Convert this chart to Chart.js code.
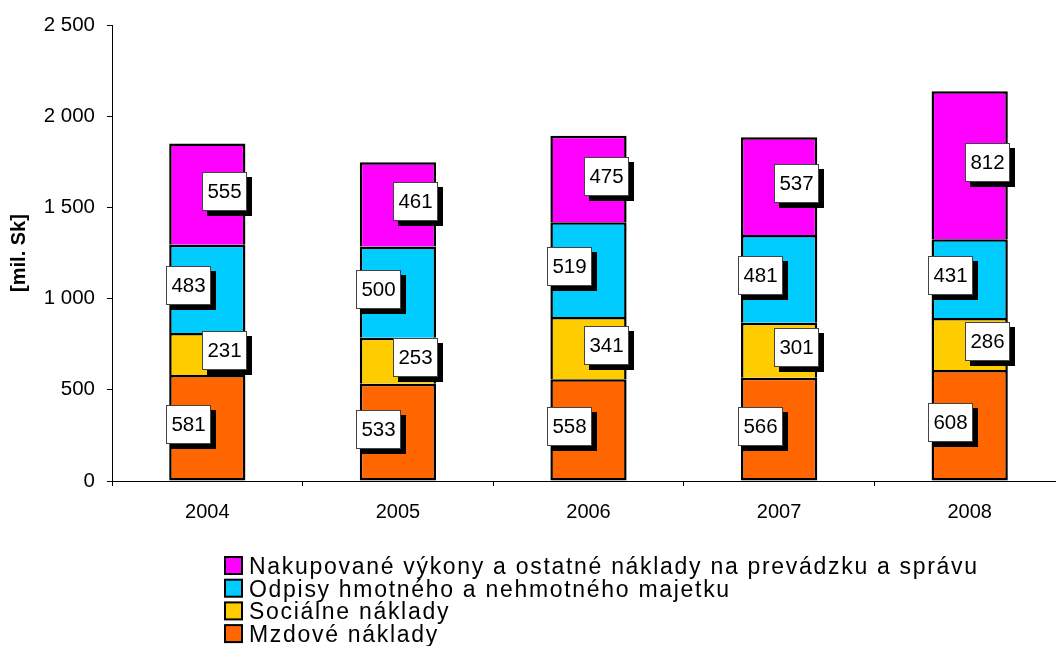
<!DOCTYPE html>
<html>
<head>
<meta charset="utf-8">
<script src="https://cdn.jsdelivr.net/npm/chart.js@4.4.1/dist/chart.umd.min.js"></script>
<style>
html,body{margin:0;padding:0;background:#fff;overflow:hidden;}
#wrap{width:1056px;height:646px;position:relative;overflow:hidden;}
#c{position:absolute;left:0;top:0;}
</style>
</head>
<body>
<div id="wrap"><canvas id="c" width="1065" height="646"></canvas></div>
<script>
const categories = ['2004', '2005', '2006', '2007', '2008'];
const mzdoveNaklady = [581, 533, 558, 566, 608];
const socialneNaklady = [231, 253, 341, 301, 286];
const odpisy = [483, 500, 519, 481, 431];
const nakupovane = [555, 461, 475, 537, 812];
const seriesLabels = [
  'Mzdové náklady',
  'Sociálne náklady',
  'Odpisy hmotného a nehmotného majetku',
  'Nakupované výkony a ostatné náklady na prevádzku a správu'
];
const yTicks = [0, 500, 1000, 1500, 2000, 2500];
const colors = ['#FF6600', '#FFCC00', '#00CCFF', '#FF00FF'];

const FONT = "Arial, 'Liberation Sans', sans-serif";

function fmt(v) {
  return String(v).replace(/\B(?=(\d{3})+(?!\d))/g, ' ');
}

const labelPlugin = {
  id: 'boxLabels',
  afterDatasetsDraw(chart) {
    const ctx = chart.ctx;
    ctx.save();
    ctx.font = '20.5px ' + FONT;
    ctx.textAlign = 'center';
    ctx.textBaseline = 'middle';
    chart.data.datasets.forEach((ds, di) => {
      const meta = chart.getDatasetMeta(di);
      const dx = (di % 2 === 0) ? -19 : 17.5;
      meta.data.forEach((bar, i) => {
        const cx = bar.x + dx;
        const cy = (bar.y + bar.base) / 2 - 3;
        const w = 45, h = 39;
        const x0 = Math.round(cx - w / 2), y0 = Math.round(cy - h / 2);
        ctx.fillStyle = '#000';
        ctx.fillRect(x0 + 5, y0 + 5, w, h);
        ctx.fillStyle = '#fff';
        ctx.fillRect(x0, y0, w, h);
        ctx.strokeStyle = '#444';
        ctx.lineWidth = 1;
        ctx.strokeRect(x0 + 0.5, y0 + 0.5, w - 1, h - 1);
        ctx.fillStyle = '#000';
        ctx.fillText(String(ds.data[i]), x0 + w / 2, y0 + h / 2 + 1);
      });
    });
    ctx.restore();
  }
};

const legendPlugin = {
  id: 'stackLegend',
  afterDraw(chart) {
    const ctx = chart.ctx;
    ctx.save();
    ctx.font = '23px ' + FONT;
    ctx.textAlign = 'left';
    ctx.textBaseline = 'alphabetic';
    try { ctx.letterSpacing = '1.7px'; } catch (e) {}
    const n = chart.data.datasets.length;
    for (let k = 0; k < n; k++) {
      const di = n - 1 - k;
      const ds = chart.data.datasets[di];
      const base = 574 + k * 22.7;
      ctx.fillStyle = ds.backgroundColor;
      ctx.fillRect(225, base - 17, 17, 17);
      ctx.strokeStyle = '#000';
      ctx.lineWidth = 2;
      ctx.strokeRect(225, base - 17, 17, 17);
      ctx.fillStyle = '#000';
      ctx.fillText(ds.label, 249, base);
    }
    ctx.restore();
  }
};

const datasets = [mzdoveNaklady, socialneNaklady, odpisy, nakupovane].map((d, i) => ({
  label: seriesLabels[i],
  data: d,
  backgroundColor: colors[i],
  borderColor: '#000',
  borderWidth: 2.5,
  borderSkipped: i === 0 ? false : 'start',
  barPercentage: 0.4,
  categoryPercentage: 1.0
}));

new Chart(document.getElementById('c'), {
  type: 'bar',
  data: { labels: categories, datasets },
  options: {
    responsive: false,
    animation: false,
    events: [],
    layout: { padding: { top: 25, right: 0, bottom: 125, left: 0 } },
    plugins: { legend: { display: false }, tooltip: { enabled: false } },
    scales: {
      x: {
        stacked: true,
        offset: true,
        grid: { display: true, offset: true, drawOnChartArea: false, drawTicks: true, tickLength: 5, color: '#000', lineWidth: 1 },
        border: { display: true, color: '#000', width: 1 },
        ticks: { color: '#000', font: { family: FONT, size: 20 }, padding: 14, maxRotation: 0 },
        afterFit(scale) { scale.height = 40; }
      },
      y: {
        stacked: true,
        min: 0,
        max: 2500,
        afterBuildTicks(scale) { scale.ticks = yTicks.map(v => ({ value: v })); },
        grid: { display: true, drawOnChartArea: false, drawTicks: true, tickLength: 5, color: '#000', lineWidth: 1 },
        border: { display: true, color: '#000', width: 1 },
        ticks: { color: '#000', font: { family: FONT, size: 20.5 }, padding: 12, callback: v => fmt(v) },
        title: { display: true, text: '[mil. Sk]', color: '#000', font: { family: FONT, size: 20, weight: 'bold' }, padding: { top: 7, bottom: 0 } },
        afterFit(scale) { scale.width = 112; }
      }
    }
  },
  plugins: [labelPlugin, legendPlugin]
});
</script>
</body>
</html>
